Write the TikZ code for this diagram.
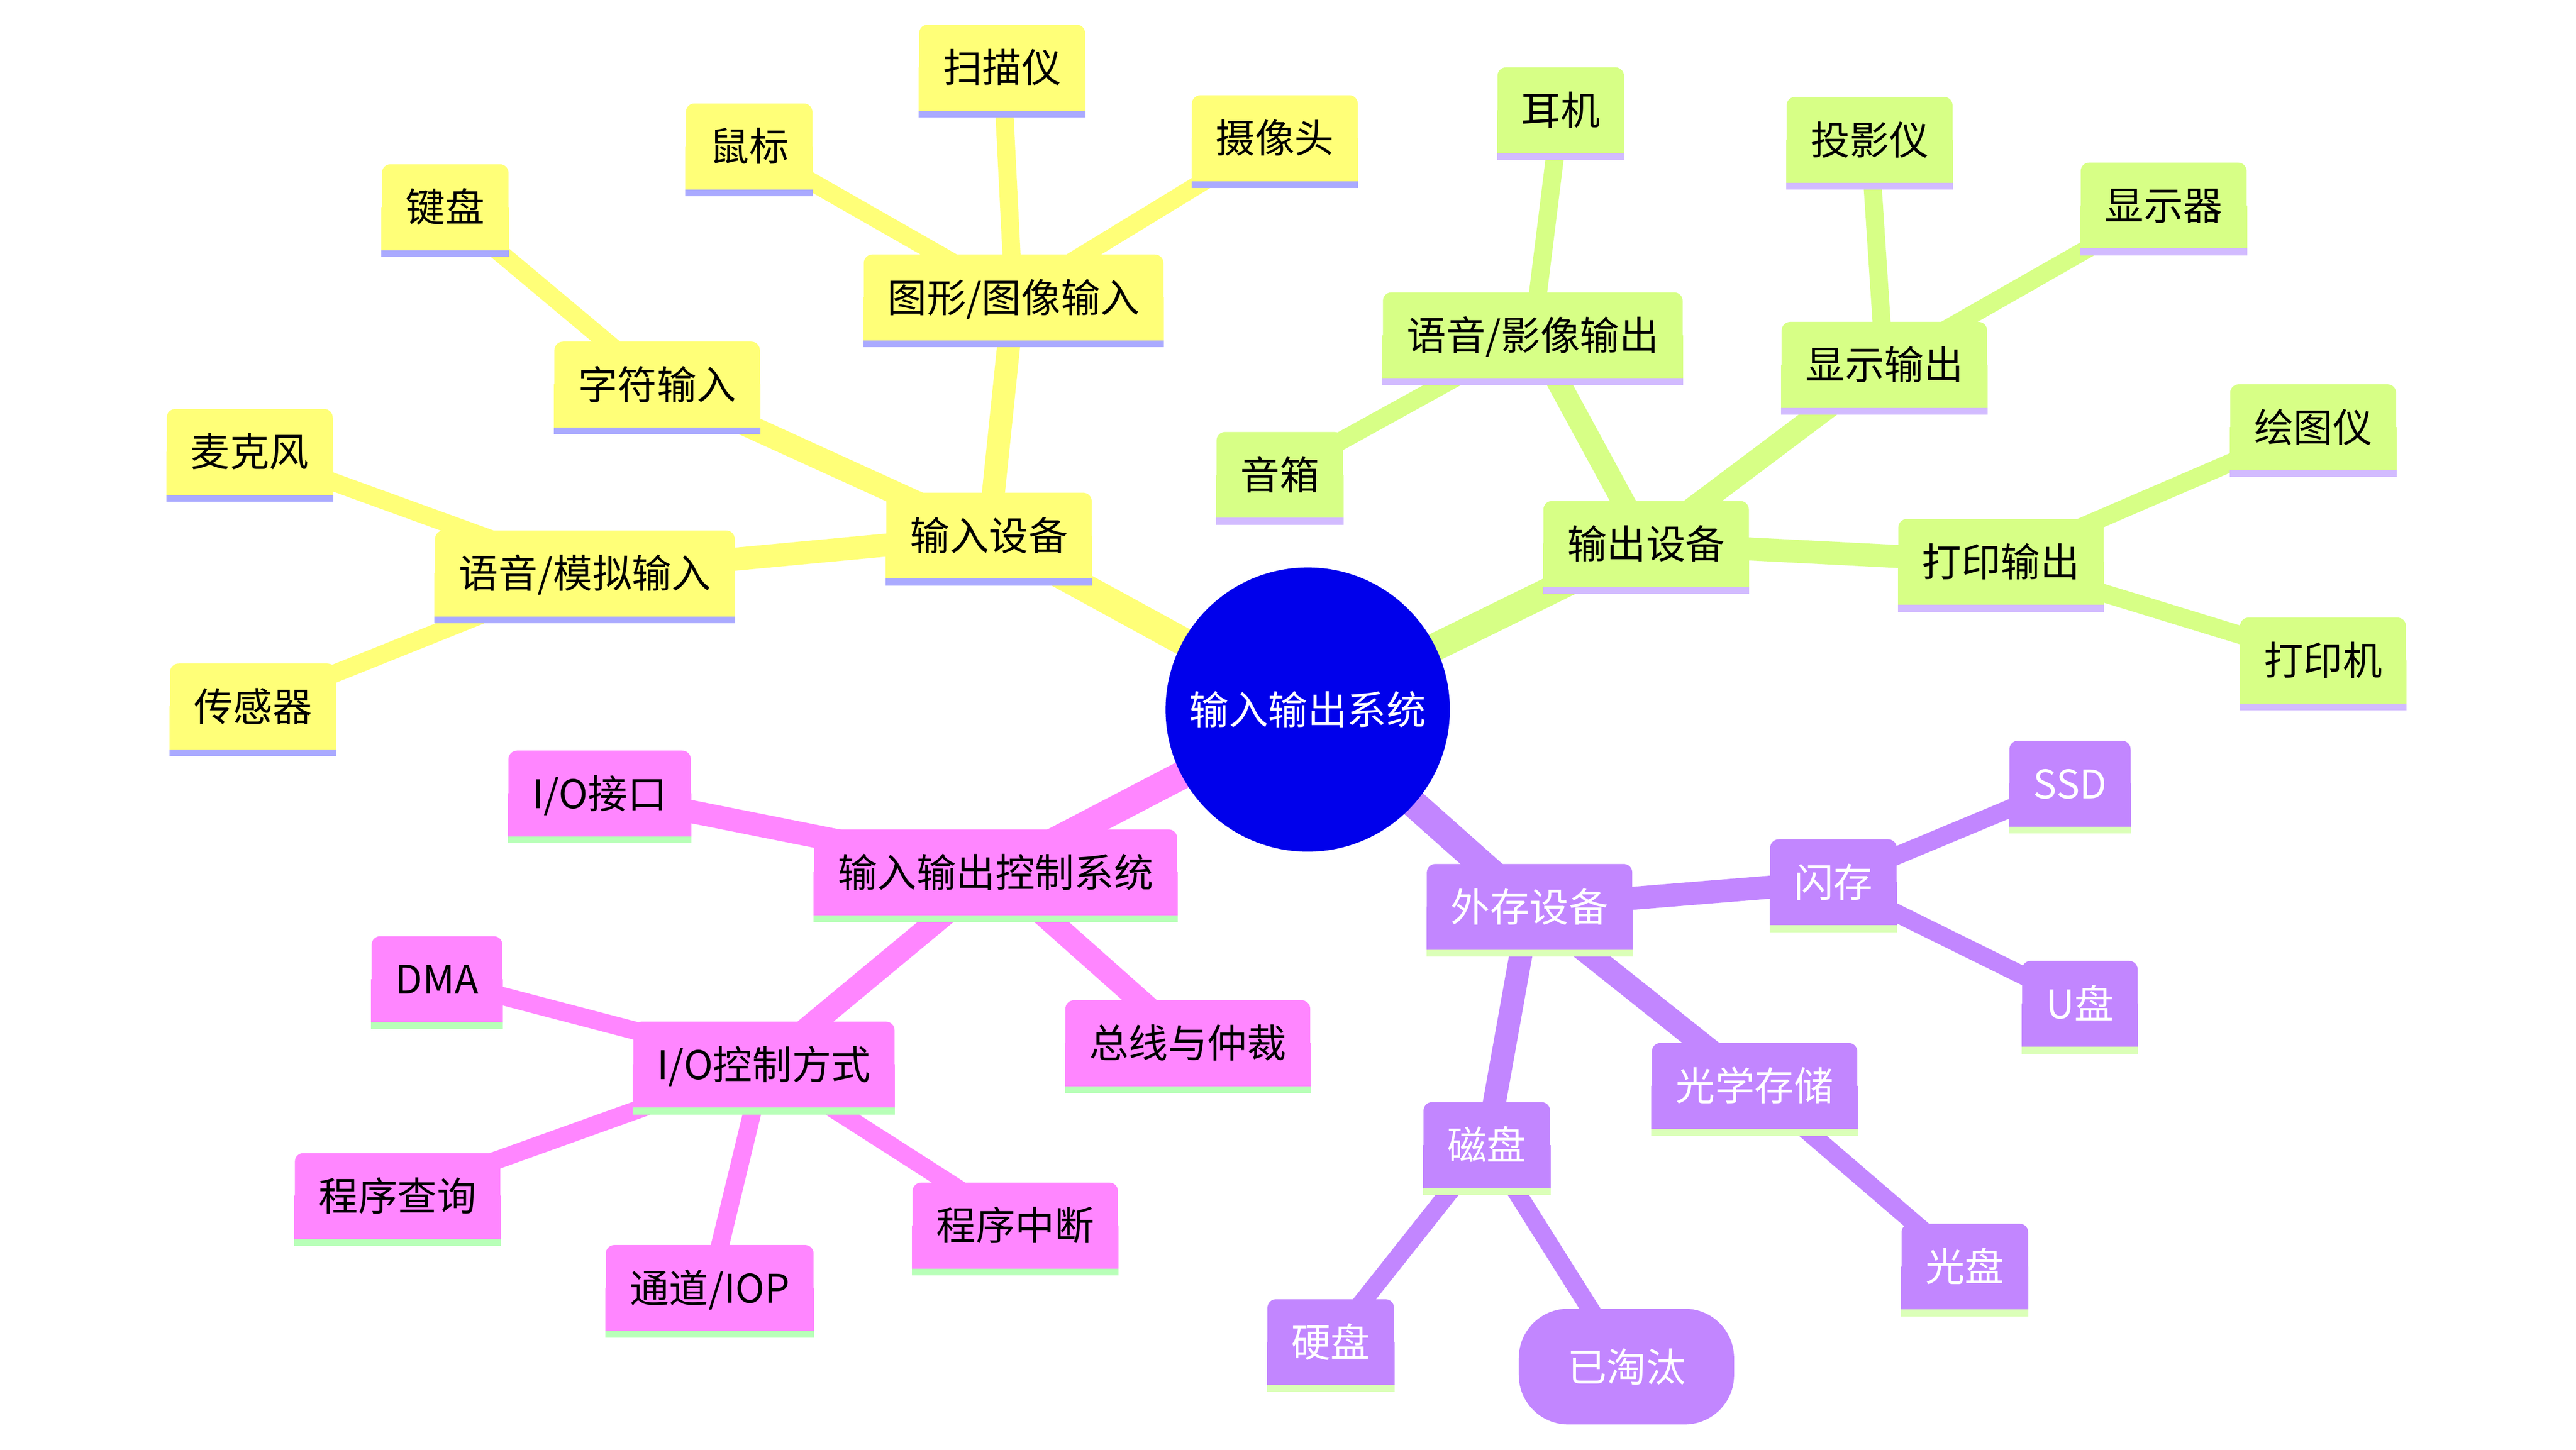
\documentclass[tikz,border=0pt]{standalone}
\usepackage{fontspec}
\setmainfont{Noto Sans CJK SC}
\usetikzlibrary{positioning}

\definecolor{rootblue}{HTML}{0000EB}
\definecolor{secA}{HTML}{FFFF78}
\definecolor{secAbar}{HTML}{AAAAFF}
\definecolor{secB}{HTML}{D7FF86}
\definecolor{secBbar}{HTML}{D2BBFF}
\definecolor{secC}{HTML}{FF86FF}
\definecolor{secCbar}{HTML}{B8FFB8}
\definecolor{secD}{HTML}{C286FF}
\definecolor{secDbar}{HTML}{DBFFB8}

\pgfdeclarelayer{edges}
\pgfdeclarelayer{boxes}
\pgfsetlayers{edges,boxes,main}

\tikzset{
  mmfont/.style={font=\fontsize{17.07pt}{20pt}\selectfont, text height=0.528cm, text depth=0.072cm},
  mmnode/.style={mmfont, rectangle, rounded corners=0.13cm, inner xsep=0.3625cm, inner ysep=0pt, minimum height=1.3cm},
  rootnode/.style={mmfont, circle, fill=rootblue, text=white, inner sep=0pt, minimum size=4.325cm},
  secAnode/.style={mmnode, fill=secA},
  secBnode/.style={mmnode, fill=secB},
  secCnode/.style={mmnode, fill=secC},
  secDnode/.style={mmnode, fill=secD, text=white},
  oldnode/.style={mmfont, fill=secD, text=white, rounded corners=0.75cm, minimum width=3.275cm, minimum height=1.76cm},
  lvA/.style={line width=0.425cm},
  lvB/.style={line width=0.35cm},
  lvC/.style={line width=0.275cm},
}

% square bottom corners and the bar under a node
\newcommand{\mmfoot}[3]{%
  \begin{pgfonlayer}{boxes}
    \fill[#2] (#1.west) rectangle (#1.south east);
    \fill[#3] (#1.south west) rectangle ([yshift=-0.105cm]#1.south east);
  \end{pgfonlayer}}

\begin{document}
\begin{tikzpicture}[x=0.025cm, y=-0.025cm]
\useasboundingbox (0,0) rectangle (1568,882.5);
\begin{pgfonlayer}{edges}
\fill[white] (0,0) rectangle (1568,882.5);
\end{pgfonlayer}

% centre
\node[rootnode] (root) at (796,432) {输入输出系统};

% input devices
\node[secAnode] (input)   at (602,326) {输入设备};
\node[secAnode] (imgin)   at (617,181) {图形/图像输入};
\node[secAnode] (charin)  at (400,234) {字符输入};
\node[secAnode] (sndin)   at (356,349) {语音/模拟输入};
\node[secAnode] (keyb)    at (271,126) {键盘};
\node[secAnode] (mouse)   at (456,89)  {鼠标};
\node[secAnode] (scanner) at (610,41)  {扫描仪};
\node[secAnode] (camera)  at (776,84)  {摄像头};
\node[secAnode] (mic)     at (152,275) {麦克风};
\node[secAnode] (sensor)  at (154,430) {传感器};

% output devices
\node[secBnode] (output)    at (1002,331) {输出设备};
\node[secBnode] (avout)     at (933,204)  {语音/影像输出};
\node[secBnode] (dispout)   at (1147,222) {显示输出};
\node[secBnode] (prtout)    at (1218,342) {打印输出};
\node[secBnode] (phone)     at (950,67)   {耳机};
\node[secBnode] (speaker)   at (779,289)  {音箱};
\node[secBnode] (projector) at (1138,85)  {投影仪};
\node[secBnode] (monitor)   at (1317,125) {显示器};
\node[secBnode] (plotter)   at (1408,260) {绘图仪};
\node[secBnode] (printer)   at (1414,402) {打印机};

% control system
\node[secCnode] (ioctl)     at (606,531) {输入输出控制系统};
\node[secCnode] (ioport)    at (365,483) {I/O接口};
\node[secCnode] (iomode)    at (465,648) {I/O控制方式};
\node[secCnode] (busarb)    at (723,635) {总线与仲裁};
\node[secCnode] (dma)       at (266,596) {DMA};
\node[secCnode] (polling)   at (242,728) {程序查询};
\node[secCnode] (channel)   at (432,784) {通道/IOP};
\node[secCnode] (interrupt) at (618,746) {程序中断};

% storage
\node[secDnode] (storage)  at (931,552)  {外存设备};
\node[secDnode] (flash)    at (1116,537) {闪存};
\node[secDnode] (optical)  at (1068,661) {光学存储};
\node[secDnode] (magnetic) at (905,697)  {磁盘};
\node[secDnode] (ssd)      at (1260,477) {SSD};
\node[secDnode] (udisk)    at (1266,611) {U盘};
\node[secDnode] (cdisk)    at (1196,771) {光盘};
\node[secDnode] (hdisk)    at (810,817)  {硬盘};
\node[oldnode]  (obsolete) at (990,832)  {已淘汰};

% feet
\foreach \n in {input,imgin,charin,sndin,keyb,mouse,scanner,camera,mic,sensor}
  \mmfoot{\n}{secA}{secAbar};
\foreach \n in {output,avout,dispout,prtout,phone,speaker,projector,monitor,plotter,printer}
  \mmfoot{\n}{secB}{secBbar};
\foreach \n in {ioctl,ioport,iomode,busarb,dma,polling,channel,interrupt}
  \mmfoot{\n}{secC}{secCbar};
\foreach \n in {storage,flash,optical,magnetic,ssd,udisk,cdisk,hdisk}
  \mmfoot{\n}{secD}{secDbar};

% branches
\begin{pgfonlayer}{edges}
\foreach \a/\b/\c in {root/input/secA, root/output/secB, root/ioctl/secC, root/storage/secD}
  \draw[\c, lvA] (\a.center) -- (\b.center);
\foreach \a/\b/\c in {input/imgin/secA, input/charin/secA, input/sndin/secA,
    output/avout/secB, output/dispout/secB, output/prtout/secB,
    ioctl/ioport/secC, ioctl/iomode/secC, ioctl/busarb/secC,
    storage/flash/secD, storage/optical/secD, storage/magnetic/secD}
  \draw[\c, lvB] (\a.center) -- (\b.center);
\foreach \a/\b/\c in {imgin/mouse/secA, imgin/scanner/secA, imgin/camera/secA,
    charin/keyb/secA, sndin/mic/secA, sndin/sensor/secA,
    avout/phone/secB, avout/speaker/secB, dispout/projector/secB, dispout/monitor/secB,
    prtout/plotter/secB, prtout/printer/secB,
    iomode/dma/secC, iomode/polling/secC, iomode/channel/secC, iomode/interrupt/secC,
    flash/ssd/secD, flash/udisk/secD, optical/cdisk/secD,
    magnetic/hdisk/secD, magnetic/obsolete/secD}
  \draw[\c, lvC] (\a.center) -- (\b.center);
\end{pgfonlayer}
\end{tikzpicture}
\end{document}
